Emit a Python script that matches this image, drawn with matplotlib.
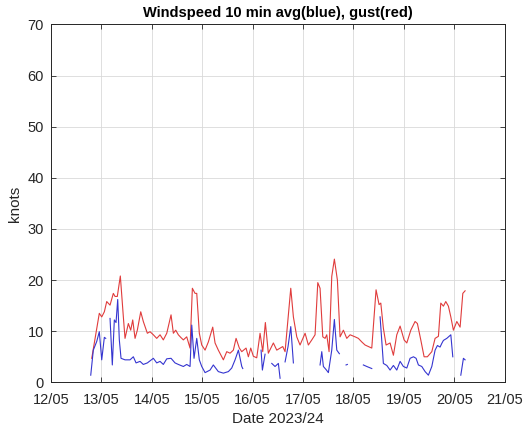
#!/usr/bin/env python
"""
Windspeed 10 min average (blue) and gust (red), in knots, 12/05 - 21/05.
"""

from datetime import datetime, timedelta

import numpy as np
import matplotlib
matplotlib.use("Agg")
import matplotlib.pyplot as plt
import matplotlib.dates as mdates


# ---------------------------------------------------------------------------
# Data (times in days after 12/05 00:00, speeds in knots)
# ---------------------------------------------------------------------------

START = datetime(2024, 5, 12)

gust_days = [
    0.808, 0.958, 1.006, 1.058, 1.105, 1.171, 1.236, 1.270, 1.315, 1.375,
    1.435, 1.468, 1.534, 1.581, 1.621, 1.667, 1.712, 1.780, 1.831, 1.911,
    1.964, 2.030, 2.097, 2.163, 2.228, 2.296, 2.381, 2.427, 2.474, 2.526,
    2.573, 2.625, 2.692, 2.758, 2.804, 2.857, 2.891, 2.942, 2.990, 3.056,
    3.121, 3.208, 3.254, 3.319, 3.419, 3.486, 3.552, 3.617, 3.671, 3.736,
    3.784, 3.869, 3.915, 3.962, 4.014, 4.081, 4.147, 4.200, 4.252, 4.311,
    4.411, 4.478, 4.597, 4.643, 4.756, 4.808, 4.875, 4.940, 5.040, 5.105,
    5.173, 5.238, 5.292, 5.337, 5.391, 5.437, 5.470, 5.516, 5.569, 5.621,
    5.681, 5.734, 5.800, 5.867, 5.933, 6.032, 6.097, 6.165, 6.230, 6.296,
    6.363, 6.448, 6.508, 6.542, 6.593, 6.647, 6.726, 6.792, 6.859, 6.925,
    7.004, 7.058, 7.137, 7.222, 7.268, 7.335, 7.401, 7.466, 7.554, 7.619,
    7.685, 7.732, 7.784, 7.831, 7.883, 7.931, 7.982, 8.050, 8.115, 8.169,
    8.214,
]
gust_kn = [
    4.7, 13.5, 12.8, 13.8, 15.8, 15.1, 17.4, 16.8, 16.8, 20.8,
    12.8, 8.6, 11.5, 10.2, 12.2, 8.6, 10.2, 13.8, 11.9, 9.6,
    9.9, 9.3, 8.6, 9.3, 8.3, 9.6, 13.2, 9.6, 10.2, 9.3,
    8.8, 8.3, 8.9, 6.7, 18.4, 17.4, 17.4, 9.6, 7.3, 6.3,
    7.9, 10.8, 7.7, 6.3, 4.4, 6.0, 5.7, 6.3, 8.6, 6.7,
    6.0, 6.7, 5.0, 6.7, 5.1, 4.8, 9.6, 6.0, 11.7, 5.7,
    7.7, 6.3, 7.0, 6.0, 18.4, 12.8, 8.9, 7.3, 9.6, 7.3,
    8.3, 9.3, 19.5, 18.4, 8.9, 8.6, 9.3, 6.0, 20.7, 24.1,
    20.0, 8.9, 10.2, 8.6, 9.3, 8.9, 8.6, 7.9, 7.3, 7.0,
    6.7, 18.1, 15.2, 15.5, 10.6, 7.3, 7.7, 5.3, 9.3, 11.0,
    8.3, 7.7, 10.2, 11.9, 11.5, 8.3, 5.0, 5.0, 6.0, 8.6,
    9.0, 15.5, 14.9, 15.8, 14.9, 12.8, 10.2, 11.9, 10.8, 17.4,
    17.9,
]

# 10 min average; NaN marks gaps in the record
avg_days = [
    0.788, 0.839, 0.907, 0.958, 1.006, 1.058, 1.085, np.nan,
    1.171, 1.216, 1.256, 1.290, 1.323, 1.355, 1.389, 1.468, 1.567, 1.633,
    1.687, 1.766, 1.831, 1.911, 2.030, 2.097, 2.163, 2.228, 2.296, 2.381,
    2.460, 2.526, 2.625, 2.692, 2.758, 2.792, 2.837, 2.891, 2.942, 2.990,
    3.056, 3.155, 3.220, 3.319, 3.419, 3.518, 3.585, 3.651, 3.717, 3.784,
    3.804, np.nan,
    4.167, 4.193, 4.246, np.nan,
    4.379, 4.444, 4.510, 4.544, np.nan,
    4.643, 4.702, 4.756, 4.808, np.nan,
    5.337, 5.371, 5.403, 5.456, 5.502, 5.569, 5.621, 5.669, 5.720, np.nan,
    5.853, 5.879, np.nan,
    6.196, 6.264, 6.363, np.nan,
    6.528, 6.593, 6.661, 6.726, 6.792, 6.859, 6.925, 6.990, 7.058, 7.123,
    7.190, 7.242, 7.288, 7.355, 7.421, 7.486, 7.554, 7.619, 7.665, 7.718,
    7.751, 7.784, 7.851, 7.931, 7.970, np.nan,
    8.129, 8.181, 8.214,
]
avg_kn = [
    1.4, 6.3, 8.0, 9.9, 4.4, 8.8, 8.6, np.nan,
    12.5, 3.4, 12.2, 11.7, 16.2, 8.3, 4.7, 4.4, 4.4, 5.0,
    3.8, 4.1, 3.5, 3.8, 4.7, 3.8, 4.1, 3.5, 4.6, 4.7,
    3.8, 3.5, 3.1, 3.5, 3.1, 11.2, 4.7, 8.6, 4.4, 3.1,
    1.9, 2.4, 3.4, 2.1, 1.8, 2.1, 2.8, 4.4, 6.3, 3.1,
    2.7, np.nan,
    6.3, 2.4, 5.5, np.nan,
    3.7, 3.1, 3.7, 0.8, np.nan,
    4.0, 7.0, 10.9, 3.8, np.nan,
    3.4, 6.0, 3.1, 2.5, 1.9, 6.3, 12.3, 6.3, 5.6, np.nan,
    3.4, 3.5, np.nan,
    3.4, 3.1, 2.7, np.nan,
    12.8, 3.7, 3.3, 2.4, 3.3, 2.4, 4.1, 3.1, 2.8, 4.7,
    5.0, 4.7, 3.4, 3.1, 2.1, 1.4, 3.1, 6.3, 7.2, 6.9,
    7.6, 8.2, 8.6, 9.3, 5.0, np.nan,
    1.4, 4.7, 4.4,
]


def to_num(days):
    """Day offsets -> matplotlib date numbers, keeping NaN gaps."""
    return np.array([mdates.date2num(START + timedelta(days=float(d)))
                     if not np.isnan(d) else np.nan for d in days])


# ---------------------------------------------------------------------------
# Plot
# ---------------------------------------------------------------------------

plt.rcParams["font.family"] = ["Liberation Sans", "DejaVu Sans"]
AX_COL = "#262626"

fig = plt.figure(figsize=(5.27, 4.33), dpi=100)
ax = fig.add_axes([0.0968, 0.117, 0.8609, 0.8266])

ax.plot(to_num(gust_days), gust_kn, color="#e03c3c", lw=0.8)
ax.plot(to_num(avg_days), avg_kn, color="#3535d0", lw=0.8)

ax.set_xlim(mdates.date2num(START), mdates.date2num(START + timedelta(days=9)))
ax.set_ylim(0, 70)
ax.xaxis.set_major_locator(mdates.DayLocator())
ax.xaxis.set_major_formatter(mdates.DateFormatter("%d/%m"))
ax.set_yticks(range(0, 71, 10))

ax.grid(True, color="#d9d9d9", lw=0.6)
ax.set_axisbelow(True)
ax.tick_params(direction="in", length=3.5, width=0.6, colors=AX_COL,
               labelsize=10.5, top=True, right=True)
ax.tick_params(axis="x", pad=8)
ax.tick_params(axis="y", pad=5)
for s in ax.spines.values():
    s.set_color(AX_COL)
    s.set_linewidth(0.7)

ax.set_title("Windspeed 10 min avg(blue), gust(red)", fontsize=10.5,
             fontweight="bold", color="black", pad=5)
ax.set_xlabel("Date 2023/24", fontsize=11, color=AX_COL, labelpad=3)
ax.set_ylabel("knots", fontsize=11, color=AX_COL, labelpad=4)

fig.savefig("out.png", dpi=100)
